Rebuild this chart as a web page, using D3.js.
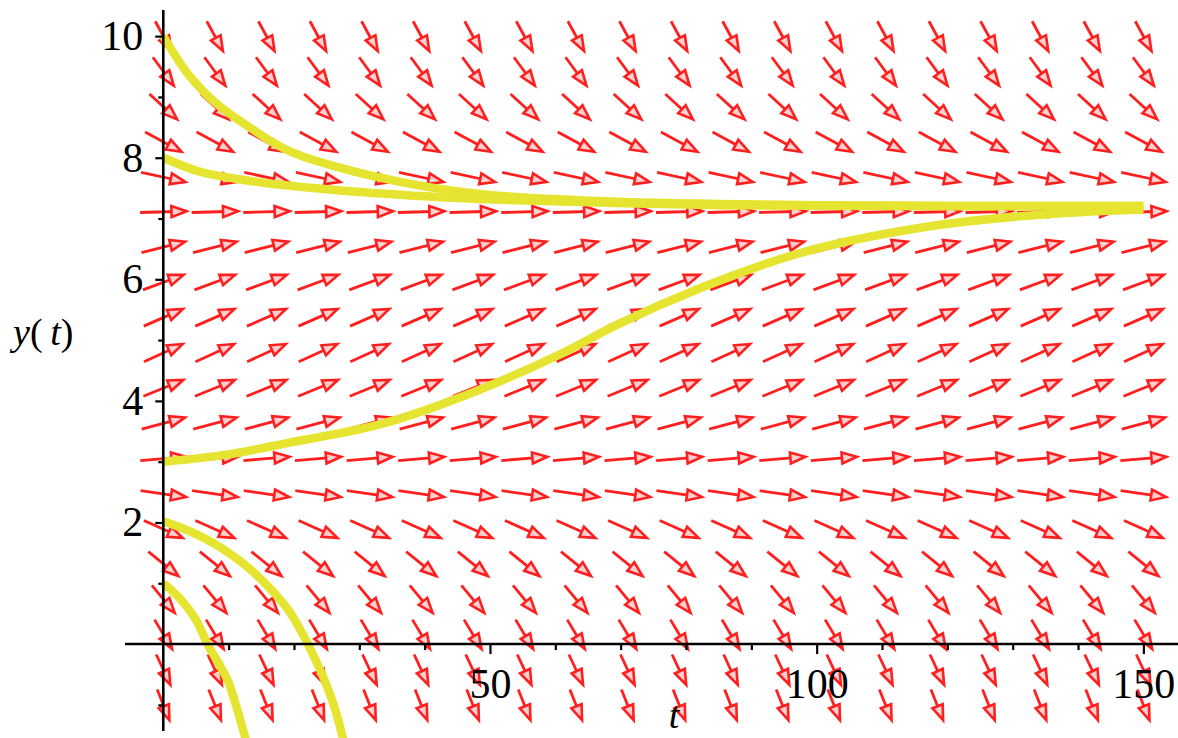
<!DOCTYPE html>
<html>
<head>
<meta charset="utf-8">
<script src="https://cdn.jsdelivr.net/npm/d3@7"></script>
<style>
  html, body { margin: 0; padding: 0; background: #fff; }
  svg { display: block; }
  .tick text { font-family: "Liberation Serif", "DejaVu Serif", serif; }
</style>
</head>
<body>
<div id="chart"></div>
<script>
const tGrid = [0, 7.89, 15.79, 23.68, 31.58, 39.47, 47.37, 55.26, 63.16, 71.05,
               78.95, 86.84, 94.74, 102.63, 110.53, 118.42, 126.32, 134.21, 142.11, 150];
const yGrid = [-1, -0.42, 0.16, 0.74, 1.32, 1.89, 2.47, 3.05, 3.63, 4.21,
               4.79, 5.37, 5.95, 6.53, 7.11, 7.68, 8.26, 8.84, 9.42, 10];
const rowSlopes = [-0.27, -0.23, -0.18, -0.13, -0.087, -0.048, -0.015, 0.009, 0.029, 0.044,
                   0.049, 0.047, 0.04, 0.027, 0.003, -0.023, -0.058, -0.099, -0.146, -0.198];

// solution curves, [t, y]
const curveY10 = [[0, 10], [3.4, 9.43], [6.6, 9.04], [13.2, 8.5], [18.7, 8.14], [26.9, 7.84],
                  [37.8, 7.57], [48.7, 7.4], [59.7, 7.32], [70.6, 7.27], [85.2, 7.24],
                  [100, 7.22], [120, 7.21], [150, 7.21]];
const curveY8 = [[0, 8], [5, 7.79], [13.2, 7.62], [24.1, 7.49], [37.8, 7.38], [54.2, 7.3],
                 [70.6, 7.25], [85.2, 7.22], [100, 7.21], [120, 7.2], [150, 7.2]];
const curveY3 = [[0, 3], [10, 3.12], [19.1, 3.31], [33.7, 3.63], [48.3, 4.18], [60, 4.73],
                 [69.8, 5.27], [82.5, 5.87], [97.1, 6.42], [116.6, 6.86], [136.2, 7.08], [150, 7.15]];
const curveY2 = [[0, 2.02], [4.6, 1.83], [9.2, 1.56], [13.3, 1.23], [16.9, 0.85], [19.4, 0.52],
                 [21.2, 0.19], [23, -0.19], [25, -0.68], [26.6, -1.18], [27.6, -1.6]];
const curveY1 = [[0, 1], [3.1, 0.68], [5.2, 0.36], [6.9, -0.03], [8.7, -0.36], [10, -0.63],
                 [11.3, -1.07], [12.7, -1.6]];
const curves = [curveY10, curveY8, curveY3, curveY2, curveY1];

const yMajor = [2, 4, 6, 8, 10];
const yMinor = [-1, 1, 3, 5, 7, 9];
const tMajor = [50, 100, 150];
const tMinor = [10, 20, 30, 40, 60, 70, 80, 90, 110, 120, 130, 140];

const width = 1178, height = 738;
const arrowColor = "#ff1f1f";
const curveColor = "#e5e531";

const x = d3.scaleLinear().domain([-5.86, 155.3]).range([125, 1178]);
const y = d3.scaleLinear().domain([-1.43, 10.43]).range([731, 10]);

const svg = d3.select("#chart").append("svg")
    .attr("width", width)
    .attr("height", height);

// arrows: direction normalised in grid-cell units
const dt = tGrid[1] - tGrid[0];
const dy = yGrid[1] - yGrid[0];
const cellW = x(tGrid[1]) - x(tGrid[0]);
const cellH = y(yGrid[0]) - y(yGrid[1]);
const arrowFrac = 0.9, headLen = 15, headHalf = 5.5;

const field = [];
yGrid.forEach((yv, j) => {
    tGrid.forEach(tv => field.push({t: tv, y: yv, s: rowSlopes[j]}));
});

const arrows = svg.append("g").attr("class", "field");
field.forEach(d => {
    let u = 1 / dt, v = d.s / dy;
    const n = Math.hypot(u, v);
    u = u / n * arrowFrac; v = v / n * arrowFrac;
    const px = u * cellW, py = -v * cellH;
    const len = Math.hypot(px, py);
    const ux = px / len, uy = py / len;
    const cx = x(d.t), cy = y(d.y);
    const x0 = cx - px / 2, y0 = cy - py / 2;
    const x1 = cx + px / 2, y1 = cy + py / 2;
    const bx = x1 - ux * headLen, by = y1 - uy * headLen;
    arrows.append("line")
        .attr("x1", x0).attr("y1", y0)
        .attr("x2", x1 - ux * 2).attr("y2", y1 - uy * 2)
        .attr("stroke", arrowColor)
        .attr("stroke-width", 2.8);
    arrows.append("path")
        .attr("d", `M${x1},${y1}L${bx - uy * headHalf},${by + ux * headHalf}L${bx + uy * headHalf},${by - ux * headHalf}Z`)
        .attr("fill", "#ffd0d0")
        .attr("stroke", arrowColor)
        .attr("stroke-width", 2.6)
        .attr("stroke-linejoin", "miter");
});

// solution curves
const line = d3.line().x(d => x(d[0])).y(d => y(d[1])).curve(d3.curveMonotoneX);
svg.append("g").selectAll("path")
    .data(curves)
    .enter()
    .append("path")
    .attr("d", line)
    .attr("fill", "none")
    .attr("stroke", curveColor)
    .attr("stroke-width", 8.5)
    .attr("stroke-linejoin", "round");

// axes
const fmt = d3.format("d");
const yAxis = svg.append("g")
    .attr("transform", `translate(${x(0)},0)`)
    .call(d3.axisLeft(y).tickValues(yMajor).tickSize(8).tickPadding(12).tickFormat(fmt));
svg.append("g")
    .attr("transform", `translate(${x(0)},0)`)
    .call(d3.axisLeft(y).tickValues(yMinor).tickSize(5).tickFormat(""))
    .select(".domain").remove();

const xAxis = svg.append("g")
    .attr("transform", `translate(0,${y(0)})`)
    .call(d3.axisBottom(x).tickValues(tMajor).tickSize(10).tickPadding(14).tickFormat(fmt));
svg.append("g")
    .attr("transform", `translate(0,${y(0)})`)
    .call(d3.axisBottom(x).tickValues(tMinor).tickSize(6).tickFormat(""))
    .select(".domain").remove();

svg.selectAll(".domain").attr("stroke", "#000").attr("stroke-width", 2.6);
svg.selectAll(".tick line").attr("stroke", "#000").attr("stroke-width", 2.2);
svg.selectAll(".tick text")
    .attr("fill", "#000")
    .style("font-size", "42px");
// plain axis lines without outer ticks
yAxis.select(".domain").attr("d", `M0,${y.range()[0]}V${y.range()[1]}`);
xAxis.select(".domain").attr("d", `M${x.range()[0]},0H${x.range()[1]}`);

// axis titles
const yTitle = svg.append("text")
    .attr("x", 13)
    .attr("y", 345)
    .attr("font-family", "Liberation Serif, serif")
    .attr("font-size", 38);
yTitle.append("tspan").attr("font-style", "italic").text("y");
yTitle.append("tspan").text("(\u2009");
yTitle.append("tspan").attr("font-style", "italic").text("t");
yTitle.append("tspan").text(")");

svg.append("text")
    .attr("x", 674)
    .attr("y", 728)
    .attr("text-anchor", "middle")
    .attr("font-family", "Liberation Serif, serif")
    .attr("font-size", 38)
    .attr("font-style", "italic")
    .text("t");
</script>
</body>
</html>
